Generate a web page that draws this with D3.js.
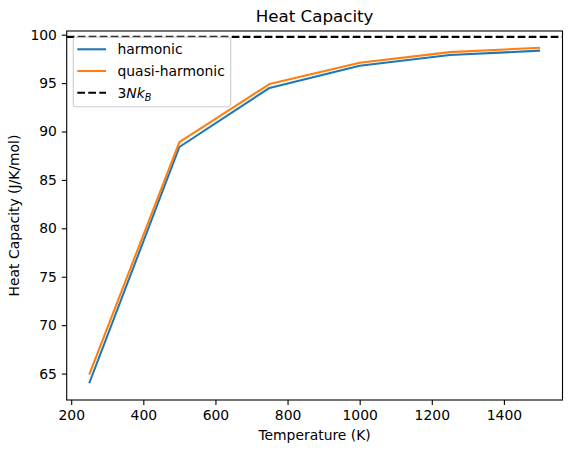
<!DOCTYPE html>
<html>
<head>
<meta charset="utf-8">
<script src="https://cdn.jsdelivr.net/npm/d3@7"></script>
<style>
    body { margin: 0; background: #fff; }
    svg text { font-family: "DejaVu Sans", sans-serif; fill: #000; }
</style>
</head>
<body>
<svg id="chart" width="571" height="453"></svg>
<script>
// temperatures (K)
const temperatures = [250, 500, 750, 1000, 1250, 1500];
// heat capacity (J/K/mol)
const harmonic = [64.0, 88.4, 94.5, 96.8, 97.9, 98.35];
const quasiHarmonic = [64.9, 88.9, 94.9, 97.1, 98.2, 98.65];
// 3NkB limit
const dulongPetit = 99.77;

const xTicks = [200, 400, 600, 800, 1000, 1200, 1400];
const yTicks = [65, 70, 75, 80, 85, 90, 95, 100];

const series = [
    { name: "harmonic", values: harmonic, color: "#1f77b4" },
    { name: "quasi-harmonic", values: quasiHarmonic, color: "#ff7f0e" }
];

const plotLeft = 66.7, plotRight = 562.5, plotTop = 31, plotBottom = 400;
const lw = 2.08;           // 1.5pt
const dash = "7.7,3.3";

const svg = d3.select("#chart");

const x = d3.scaleLinear()
    .domain([187.5, 1562.5])
    .range([plotLeft, plotRight]);

const y = d3.scaleLinear()
    .domain([62.27, 100.38])
    .range([plotBottom, plotTop]);

// axes
const xAxis = d3.axisBottom(x)
    .tickValues(xTicks)
    .tickSize(4.9)
    .tickPadding(4.9)
    .tickFormat(d3.format("d"));

const yAxis = d3.axisLeft(y)
    .tickValues(yTicks)
    .tickSize(4.9)
    .tickPadding(4.9)
    .tickFormat(d3.format("d"));

const gx = svg.append("g")
    .attr("transform", "translate(0," + plotBottom + ")")
    .call(xAxis);

const gy = svg.append("g")
    .attr("transform", "translate(" + plotLeft + ",0)")
    .call(yAxis);

[gx, gy].forEach(g => {
    g.select(".domain").remove();
    g.selectAll(".tick line").attr("stroke", "#000").attr("stroke-width", 1.1);
    g.selectAll(".tick text")
        .attr("font-size", "13.9px")
        .attr("font-family", "DejaVu Sans");
});

// lines
const line = d3.line()
    .x((d, i) => x(temperatures[i]))
    .y(d => y(d));

svg.append("line")
    .attr("x1", plotLeft)
    .attr("x2", plotRight)
    .attr("y1", y(dulongPetit))
    .attr("y2", y(dulongPetit))
    .attr("stroke", "#000")
    .attr("stroke-width", lw)
    .attr("stroke-dasharray", dash);

series.forEach(s => {
    svg.append("path")
        .attr("d", line(s.values))
        .attr("fill", "none")
        .attr("stroke", s.color)
        .attr("stroke-width", lw)
        .attr("stroke-linejoin", "round");
});

// frame
svg.append("rect")
    .attr("x", plotLeft)
    .attr("y", plotTop)
    .attr("width", plotRight - plotLeft)
    .attr("height", plotBottom - plotTop)
    .attr("fill", "none")
    .attr("stroke", "#000")
    .attr("stroke-width", 1.1);

// title + labels
svg.append("text")
    .attr("x", (plotLeft + plotRight) / 2)
    .attr("y", 22)
    .attr("text-anchor", "middle")
    .attr("font-size", "16.7px")
    .text("Heat Capacity");

svg.append("text")
    .attr("x", (plotLeft + plotRight) / 2)
    .attr("y", 440)
    .attr("text-anchor", "middle")
    .attr("font-size", "13.9px")
    .text("Temperature (K)");

svg.append("text")
    .attr("transform", "translate(19," + ((plotTop + plotBottom) / 2) + ") rotate(-90)")
    .attr("text-anchor", "middle")
    .attr("font-size", "13.9px")
    .text("Heat Capacity (J/K/mol)");

// legend
const legend = svg.append("g");

legend.append("rect")
    .attr("x", 73.3)
    .attr("y", 37.3)
    .attr("width", 157.4)
    .attr("height", 69.4)
    .attr("rx", 2.5)
    .attr("fill", "#fff")
    .attr("fill-opacity", 0.8)
    .attr("stroke", "#ccc")
    .attr("stroke-width", 1.1);

const legendItems = [
    { color: "#1f77b4", dash: null },
    { color: "#ff7f0e", dash: null },
    { color: "#000", dash: dash }
];

legendItems.forEach((item, i) => {
    const ly = 49.3 + i * 21.7;
    legend.append("line")
        .attr("x1", 77.3)
        .attr("x2", 106)
        .attr("y1", ly)
        .attr("y2", ly)
        .attr("stroke", item.color)
        .attr("stroke-width", lw)
        .attr("stroke-dasharray", item.dash);

    const t = legend.append("text")
        .attr("x", 117.5)
        .attr("y", ly + 5)
        .attr("font-size", "13.9px");

    if (i < 2) {
        t.text(series[i].name);
    } else {
        t.append("tspan").text("3");
        t.append("tspan").attr("font-style", "italic").text("Nk");
        t.append("tspan")
            .attr("font-style", "italic")
            .attr("font-size", "9.7px")
            .attr("dy", 3)
            .text("B");
    }
});
</script>
</body>
</html>
